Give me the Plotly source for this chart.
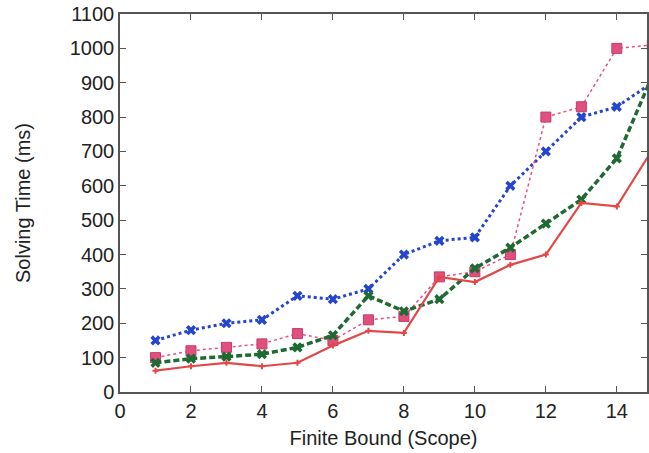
import plotly.graph_objects as go

scope = list(range(1, 16))
blue = [150, 180, 200, 210, 280, 270, 300, 400, 440, 450, 600, 700, 800, 830, 900]
pink = [100, 120, 130, 140, 170, 150, 210, 220, 335, 350, 400, 800, 830, 1000, 1010]
green = [85, 97, 103, 110, 130, 165, 280, 235, 270, 360, 420, 490, 560, 680, 920]
red = [62, 75, 85, 75, 85, 135, 178, 172, 335, 320, 370, 400, 550, 540, 705]

x_ticks = [0, 2, 4, 6, 8, 10, 12, 14]
y_ticks = list(range(0, 1101, 100))

FONT = "Liberation Sans, Arial"

fig = go.Figure()
fig.add_trace(go.Scatter(x=scope, y=blue, mode="lines+markers",
                         line=dict(color="#2546cc", width=3, dash="dot"),
                         marker=dict(symbol="x", size=9, color="#2546cc")))
fig.add_trace(go.Scatter(x=scope, y=pink, mode="lines+markers",
                         line=dict(color="#e8508a", width=1.5, dash="dot"),
                         marker=dict(symbol="square", size=10, color="#e0507e",
                                     line=dict(color="#c83a6a", width=1))))
fig.add_trace(go.Scatter(x=scope, y=green, mode="lines+markers",
                         line=dict(color="#1f6a32", width=3.5, dash="6px,3px"),
                         marker=dict(symbol="x", size=9, color="#1f6a32")))
fig.add_trace(go.Scatter(x=scope, y=red, mode="lines+markers",
                         line=dict(color="#e24848", width=2.2),
                         marker=dict(symbol="cross", size=5, color="#e24848")))

axis_common = dict(showgrid=False, zeroline=False, showline=True, linecolor="#555",
                   linewidth=1.5, ticks="inside", ticklen=6, tickcolor="#555",
                   mirror="ticks",
                   tickfont=dict(family=FONT, size=20, color="#222"))

fig.update_xaxes(range=[0, 14.85], tickvals=x_ticks,
                 title=dict(text="Finite Bound (Scope)",
                            font=dict(family=FONT, size=20, color="#222"),
                            standoff=10),
                 **axis_common)
fig.update_yaxes(range=[0, 1100], tickvals=y_ticks,
                 title=dict(text="Solving Time (ms)",
                            font=dict(family=FONT, size=20, color="#222"),
                            standoff=34),
                 **axis_common)

fig.update_layout(width=649, height=453, showlegend=False,
                  plot_bgcolor="white", paper_bgcolor="white",
                  margin=dict(l=120, r=0, t=14, b=61))

fig.write_html("out.html")
